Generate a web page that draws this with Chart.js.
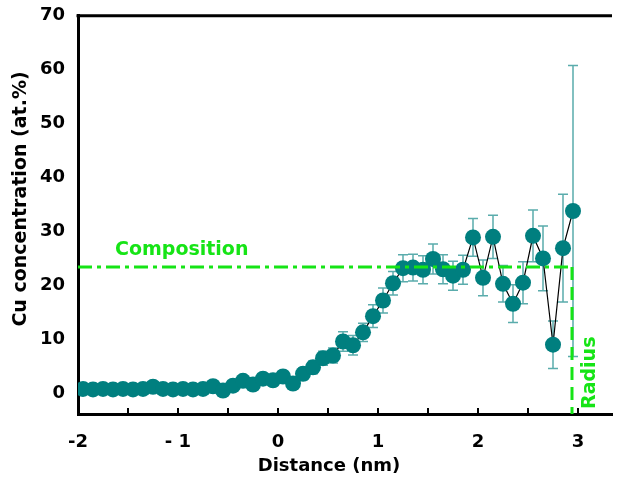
<!DOCTYPE html>
<html>
<head>
<meta charset="utf-8">
<script src="https://cdn.jsdelivr.net/npm/chart.js@4.4.0/dist/chart.umd.min.js"></script>
<style>
html, body { margin: 0; padding: 0; background: #fff; }
</style>
</head>
<body>
<canvas id="profile" width="624" height="478"></canvas>
<script>
// Cu profile across the interface (one point every 0.1 nm)
const distance = [
    -1.95, -1.85, -1.75, -1.65, -1.55, -1.45, -1.35, -1.25, -1.15, -1.05,
    -0.95, -0.85, -0.75, -0.65, -0.55, -0.45, -0.35, -0.25, -0.15, -0.05,
    0.05, 0.15, 0.25, 0.35, 0.45, 0.55, 0.65, 0.75, 0.85, 0.95,
    1.05, 1.15, 1.25, 1.35, 1.45, 1.55, 1.65, 1.75, 1.85, 1.95,
    2.05, 2.15, 2.25, 2.35, 2.45, 2.55, 2.65, 2.75, 2.85, 2.95
];
const cuConc = [
    0.8, 0.7, 0.8, 0.7, 0.8, 0.7, 0.8, 1.2, 0.8, 0.7,
    0.8, 0.7, 0.8, 1.3, 0.5, 1.4, 2.3, 1.6, 2.7, 2.4,
    3.1, 1.8, 3.6, 4.8, 6.5, 7.0, 9.6, 8.9, 11.3, 14.3,
    17.2, 20.4, 23.2, 23.3, 22.9, 24.9, 23.0, 21.8, 22.9, 28.9,
    21.4, 29.0, 20.3, 16.6, 20.5, 29.2, 25.0, 9.0, 26.9, 33.8
];
const cuErr = [
    0.5, 0.5, 0.5, 0.5, 0.5, 0.5, 0.5, 0.5, 0.5, 0.5,
    0.5, 0.5, 0.5, 0.6, 0.6, 0.7, 0.8, 0.8, 0.9, 1.0,
    1.0, 1.0, 1.1, 1.2, 1.3, 1.4, 1.8, 1.8, 1.7, 2.1,
    2.3, 2.2, 2.5, 2.5, 2.6, 2.8, 2.7, 2.7, 2.7, 3.5,
    3.3, 4.0, 3.4, 3.5, 3.9, 4.8, 6.0, 4.4, 10.0, 27.0
];

const xTickValues = [-2, -1.5, -1, -0.5, 0, 0.5, 1, 1.5, 2, 2.5, 3];
const xTickLabels = { '-2': '-2', '-1': '- 1', '0': '0', '1': '1', '2': '2', '3': '3' };
const yTickValues = [0, 10, 20, 30, 40, 50, 60, 70];

const composition = 23.4;   // at.%
const radius = 2.94;        // nm

const TEAL = '#007f7f';
const ERR = '#5aacac';
const GREEN = '#16e416';
const FONT = "'DejaVu Sans', sans-serif";

const extras = {
    id: 'extras',
    beforeDatasetsDraw(chart) {
        const ctx = chart.ctx;
        const xs = chart.scales.x, ys = chart.scales.y;
        ctx.save();
        ctx.strokeStyle = ERR;
        ctx.lineWidth = 1.5;
        distance.forEach((d, i) => {
            const px = xs.getPixelForValue(d);
            const top = ys.getPixelForValue(cuConc[i] + cuErr[i]);
            const bot = ys.getPixelForValue(cuConc[i] - cuErr[i]);
            ctx.beginPath();
            ctx.moveTo(px, top); ctx.lineTo(px, bot);
            ctx.moveTo(px - 5, top); ctx.lineTo(px + 5, top);
            ctx.moveTo(px - 5, bot); ctx.lineTo(px + 5, bot);
            ctx.stroke();
        });
        ctx.restore();
    },
    afterDraw(chart) {
        const ctx = chart.ctx;
        const a = chart.chartArea;
        const xs = chart.scales.x, ys = chart.scales.y;
        ctx.save();
        // frame top line and inward x ticks
        ctx.strokeStyle = '#000';
        ctx.lineWidth = 3;
        ctx.beginPath();
        ctx.moveTo(a.left - 1.5, a.top); ctx.lineTo(a.right, a.top);
        ctx.stroke();
        ctx.lineWidth = 2;
        xTickValues.forEach(v => {
            const px = xs.getPixelForValue(v);
            ctx.beginPath();
            ctx.moveTo(px, a.bottom); ctx.lineTo(px, a.bottom - 6);
            ctx.stroke();
        });

        ctx.fillStyle = GREEN;
        ctx.font = "bold 19px " + FONT;
        ctx.textAlign = 'left';
        ctx.textBaseline = 'alphabetic';
        ctx.fillText('Composition', xs.getPixelForValue(-1.63), ys.getPixelForValue(25.6));
        ctx.translate(xs.getPixelForValue(3.12), ys.getPixelForValue(3.8));
        ctx.rotate(-Math.PI / 2);
        ctx.textAlign = 'center';
        ctx.textBaseline = 'middle';
        ctx.fillText('Radius', 0, 0);
        ctx.restore();

        // axis titles
        ctx.save();
        ctx.fillStyle = '#000';
        ctx.font = "bold 18px " + FONT;
        ctx.textAlign = 'center';
        ctx.textBaseline = 'middle';
        ctx.fillText('Distance (nm)', 329, 466);
        ctx.translate(21, 199);
        ctx.rotate(-Math.PI / 2);
        ctx.font = "bold 19px " + FONT;
        ctx.fillText('Cu concentration (at.%)', 0, 0);
        ctx.restore();
    }
};

new Chart(document.getElementById('profile'), {
    type: 'line',
    data: {
        datasets: [
            {
                label: 'Composition',
                data: [{ x: -2, y: composition }, { x: radius, y: composition }],
                borderColor: GREEN,
                borderWidth: 3,
                borderDash: [14, 5, 4, 5],
                pointRadius: 0,
                order: 0
            },
            {
                label: 'Radius',
                data: [{ x: radius, y: composition }, { x: radius, y: -3.85 }],
                borderColor: GREEN,
                borderWidth: 3,
                borderDash: [13, 7],
                pointRadius: 0,
                order: 0
            },
            {
                label: 'Cu',
                data: distance.map((d, i) => ({ x: d, y: cuConc[i] })),
                borderColor: '#000',
                borderWidth: 1.2,
                pointRadius: 8,
                pointBorderWidth: 0,
                pointBackgroundColor: TEAL,
                tension: 0,
                order: 1
            }
        ]
    },
    options: {
        responsive: false,
        animation: false,
        layout: { padding: { top: 11, right: 12, left: 0, bottom: 0 } },
        plugins: { legend: { display: false }, tooltip: { enabled: false } },
        scales: {
            x: {
                type: 'linear',
                min: -2,
                max: 3.34,
                afterBuildTicks: s => { s.ticks = xTickValues.map(v => ({ value: v })); },
                afterFit: s => { s.height = 64; },
                grid: { display: false },
                border: { display: true, color: '#000', width: 3 },
                ticks: {
                    padding: 10,
                    autoSkip: false,
                    maxRotation: 0,
                    color: '#000',
                    font: { family: FONT, size: 18, weight: 'bold' },
                    callback: v => xTickLabels[String(v)] || ''
                }
            },
            y: {
                min: -3.85,
                max: 70,
                afterBuildTicks: s => { s.ticks = yTickValues.map(v => ({ value: v })); },
                afterFit: s => { s.width = 78; },
                grid: { display: false },
                border: { display: true, color: '#000', width: 3 },
                ticks: {
                    padding: 5,
                    color: '#000',
                    font: { family: FONT, size: 18, weight: 'bold' }
                }
            }
        }
    },
    plugins: [extras]
});
</script>
</body>
</html>
